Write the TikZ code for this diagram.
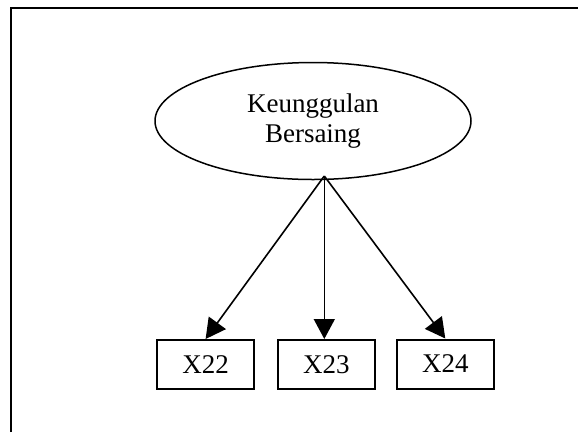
\documentclass[tikz,border=0pt]{standalone}
\usepackage{fontspec}
\setmainfont{Liberation Serif}
\usetikzlibrary{shapes.geometric,arrows.meta}
\begin{document}
\begin{tikzpicture}[x=1pt, y=-1pt,
    construct/.style ={ellipse, draw, line width=1.5pt, minimum width=316pt, minimum height=117pt, inner sep=0pt, align=center, font=\fontsize{27}{30}\selectfont},
    indicator/.style ={rectangle, draw, line width=2pt, minimum width=97pt, minimum height=49pt, inner sep=0pt, font=\fontsize{27}{30}\selectfont},
    loading/.style ={line width=1.6pt, -{Triangle[length=20pt, width=21pt]}}]
   \useasboundingbox (0,0) rectangle (578,432);
   \draw[line width=2pt] (11,432) -- (11,8) -- (578,8);

   \node[construct] (K) at (313,121) {Keunggulan\\Bersaing};
   \coordinate (S) at (324.3,176);

   \node[indicator] (X22) at (205.6,364.5) {X22};
   \node[indicator] (X23) at (326.3,364.5) {X23};
   \node[indicator] (X24) at (445.3,364) {X24};


   \draw[loading] (S) to (X22.north);
   \draw[loading] (S) to (S |- X23.north);
   \draw[loading] (S) to (X24.north);

 \end{tikzpicture}
\end{document}
